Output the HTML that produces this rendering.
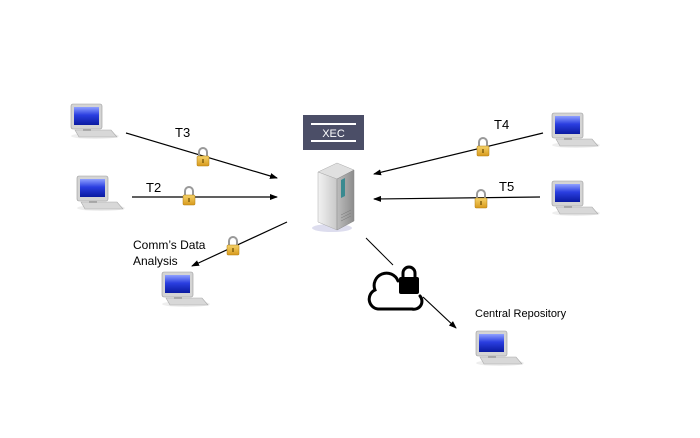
<!DOCTYPE html>
<html><head><style>
html,body{margin:0;padding:0;background:#fff;}
svg{display:block;font-family:"Liberation Sans",Arial,sans-serif;}
</style></head><body>
<svg width="700" height="438" viewBox="0 0 700 438" xmlns="http://www.w3.org/2000/svg">
<defs>
<linearGradient id="scr" x1="0" y1="0" x2="0" y2="1">
<stop offset="0" stop-color="#8fa0ff"/><stop offset="0.45" stop-color="#2a3ee0"/><stop offset="1" stop-color="#0a1aa0"/>
</linearGradient>
<linearGradient id="lk" x1="0" y1="0" x2="0" y2="1">
<stop offset="0" stop-color="#f5d36a"/><stop offset="1" stop-color="#d89a1c"/>
</linearGradient>
<linearGradient id="srvL" x1="0" y1="0" x2="1" y2="0">
<stop offset="0" stop-color="#f2f2f2"/><stop offset="1" stop-color="#c8c8c8"/>
</linearGradient>
<linearGradient id="srvR" x1="0" y1="0" x2="1" y2="0">
<stop offset="0" stop-color="#bdbdbd"/><stop offset="1" stop-color="#8c8c8c"/>
</linearGradient>
<marker id="ar" markerWidth="8" markerHeight="6" refX="7" refY="3" orient="auto" markerUnits="userSpaceOnUse">
<path d="M0,0 L8,3 L0,6 z" fill="#000"/>
</marker>
<g id="pc">
<ellipse cx="24" cy="32" rx="24" ry="3" fill="#eee"/>
<path d="M4,26 L40,26 L46,33 L8,33 z" fill="#d8d8d8" stroke="#aaa" stroke-width="0.6"/>
<rect x="12" y="22" width="8" height="5" fill="#aaa"/>
<rect x="0" y="0" width="31" height="25" rx="2" fill="#d4d4d4" stroke="#999" stroke-width="0.6"/>
<rect x="3" y="3" width="25" height="18" fill="url(#scr)"/>
</g>
<g id="lock">
<path d="M-4,-1 L-4,-5 A4,4 0 0 1 4,-5 L4,-1" fill="none" stroke="#999" stroke-width="2"/>
<rect x="-6" y="-1" width="12" height="10" rx="1" fill="url(#lk)" stroke="#b07d10" stroke-width="0.5"/>
<rect x="-0.6" y="2" width="1.2" height="4" fill="#6a4a00"/>
</g>
</defs>

<!-- lines -->
<g stroke="#000" stroke-width="1.2" fill="none" marker-end="url(#ar)">
<line x1="126" y1="133" x2="277" y2="178"/>
<line x1="132" y1="197" x2="277" y2="197"/>
<line x1="287" y1="222" x2="192" y2="266"/>
<line x1="543" y1="133" x2="374" y2="174"/>
<line x1="540" y1="197" x2="374" y2="199"/>
<line x1="423" y1="297" x2="456" y2="328"/>
</g>
<line x1="366" y1="238" x2="393" y2="265" stroke="#000" stroke-width="1"/>

<!-- computers -->
<use href="#pc" x="71" y="104"/>
<use href="#pc" x="77" y="176"/>
<use href="#pc" x="162" y="272"/>
<use href="#pc" x="552" y="113"/>
<use href="#pc" x="552" y="181"/>
<use href="#pc" x="476" y="331"/>

<!-- locks -->
<use href="#lock" x="203" y="157"/>
<use href="#lock" x="189" y="196"/>
<use href="#lock" x="233" y="246"/>
<use href="#lock" x="483" y="147"/>
<use href="#lock" x="481" y="199"/>

<!-- XEC -->
<rect x="303" y="115" width="61" height="35" fill="#4b4e67"/>
<rect x="311" y="123" width="45" height="2" fill="#fff"/>
<rect x="311" y="140" width="45" height="2" fill="#fff"/>
<text x="333.5" y="137" font-size="11" fill="#fff" text-anchor="middle">XEC</text>

<!-- server -->
<ellipse cx="332" cy="228" rx="20" ry="4" fill="#dde"/>
<path d="M318,172 L337,163 L354,170 L337,179 z" fill="#e0e0e0" stroke="#aaa" stroke-width="0.5"/>
<path d="M318,172 L337,179 L337,230 L318,222 z" fill="url(#srvL)" stroke="#aaa" stroke-width="0.5"/>
<path d="M337,179 L354,170 L354,221 L337,230 z" fill="url(#srvR)" stroke="#888" stroke-width="0.5"/>
<path d="M341,180 L345,178 L345,196 L341,198 z" fill="#3a8a90"/>
<g stroke="#777" stroke-width="0.5"><line x1="341" y1="215" x2="351" y2="210"/><line x1="341" y1="218" x2="351" y2="213"/><line x1="341" y1="221" x2="351" y2="216"/></g>

<!-- cloud with lock -->
<path d="M400,309 L378,309 A10,10 0 0 1 375,290 A12,12 0 0 1 398,281" fill="none" stroke="#000" stroke-width="3" stroke-linecap="round"/>
<path d="M420,296 A8,8 0 0 1 412,309 L398,309" fill="none" stroke="#000" stroke-width="3" stroke-linecap="round"/>
<path d="M403,278 L403,273 A6,6 0 0 1 415,273 L415,278" fill="none" stroke="#000" stroke-width="3"/>
<rect x="399" y="277" width="20" height="17" rx="2" fill="#000"/>

<!-- labels -->
<g font-size="13" fill="#000">
<text x="175" y="137">T3</text>
<text x="146" y="192">T2</text>
<text x="494" y="129">T4</text>
<text x="499" y="191">T5</text>
<text x="133" y="249" font-size="12">Comm’s Data</text>
<text x="133" y="265" font-size="12">Analysis</text>
<text x="475" y="317" font-size="11">Central Repository</text>
</g>
</svg>
</body></html>
